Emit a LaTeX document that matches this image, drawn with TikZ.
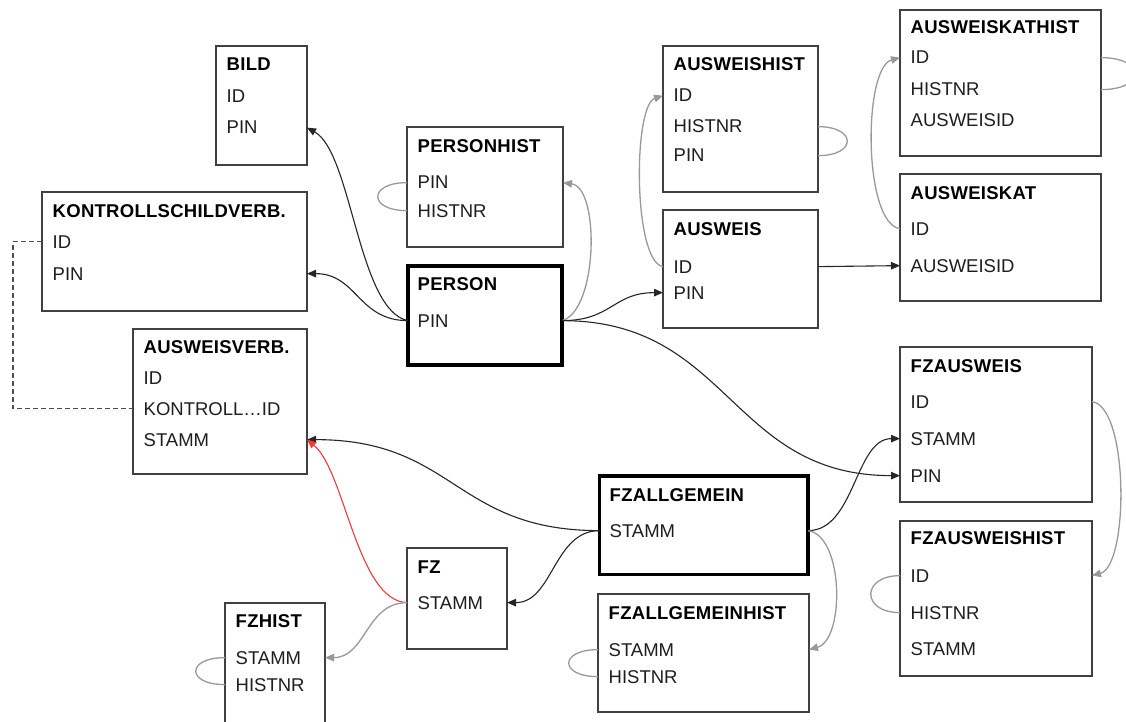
\documentclass[tikz,border=0pt]{standalone}
\usepackage{fontspec}
\setmainfont{Liberation Sans}
\newfontfamily\titlefont[LetterSpace=1.5]{Liberation Sans}
\usetikzlibrary{arrows.meta}

\definecolor{boxline}{HTML}{404040}
\definecolor{linkgray}{HTML}{999999}
\definecolor{linkred}{HTML}{F23A3A}
\definecolor{fieldtext}{HTML}{1E1E1E}
\newcommand{\tabfont}{\fontsize{18.5}{22}\selectfont}

\tikzset{
    tab/.style = {draw=boxline, line width=1.2pt, rectangle, inner sep=0pt, outer sep=0pt, anchor=north west},
    maintab/.style = {tab, draw=black, line width=3.5pt},
    fld/.style = {anchor=base west, inner sep=0pt, font=\tabfont, text=fieldtext},
    ttl/.style = {fld, font=\titlefont\bfseries\tabfont, text=black},
    fk/.style = {draw=black!85, line width=1.1pt, -{Triangle[length=9pt,width=7.5pt]}},
    redfk/.style = {fk, draw=linkred},
    hist/.style = {draw=linkgray, line width=1.3pt, -{Triangle[length=9pt,width=7.5pt]}},
    selfref/.style = {draw=linkgray, line width=1.3pt},
    verb/.style = {draw=black!70, line width=1.1pt, dash pattern=on 5pt off 3pt}
}

\begin{document}
\begin{tikzpicture}[x=1pt, y=-1pt]
    \path[use as bounding box, fill=white] (0, 0) rectangle (1126, 722);

    % tables
    \node[tab, minimum width=91pt, minimum height=119pt] at (216, 46) (bild) {};
    \node[ttl] at (226.5, 71) (bild-t) {BILD};
    \node[fld] at (226.5, 103) (bild-id) {ID};
    \node[fld] at (226.5, 134) (bild-pin) {PIN};

    \node[tab, minimum width=265pt, minimum height=119pt] at (42, 192) (ksv) {};
    \node[ttl] at (52.5, 217) (ksv-t) {KONTROLLSCHILDVERB.};
    \node[fld] at (52.5, 248) (ksv-id) {ID};
    \node[fld] at (52.5, 280) (ksv-pin) {PIN};

    \node[tab, minimum width=156pt, minimum height=120pt] at (407, 127) (personhist) {};
    \node[ttl] at (417.5, 153) (personhist-t) {PERSONHIST};
    \node[fld] at (417.5, 189) (personhist-pin) {PIN};
    \node[fld] at (417.5, 217) (personhist-histnr) {HISTNR};

    \node[maintab, minimum width=154pt, minimum height=99pt] at (408, 266) (person) {};
    \node[ttl] at (417.5, 290) (person-t) {PERSON};
    \node[fld] at (417.5, 327) (person-pin) {PIN};

    \node[tab, minimum width=155pt, minimum height=146pt] at (663, 46) (ausweishist) {};
    \node[ttl] at (673.5, 71) (ausweishist-t) {AUSWEISHIST};
    \node[fld] at (673.5, 102) (ausweishist-id) {ID};
    \node[fld] at (673.5, 133) (ausweishist-histnr) {HISTNR};
    \node[fld] at (673.5, 162) (ausweishist-pin) {PIN};

    \node[tab, minimum width=155pt, minimum height=118pt] at (663, 210) (ausweis) {};
    \node[ttl] at (673.5, 235) (ausweis-t) {AUSWEIS};
    \node[fld] at (673.5, 273) (ausweis-id) {ID};
    \node[fld] at (673.5, 299) (ausweis-pin) {PIN};

    \node[tab, minimum width=201pt, minimum height=146pt] at (900, 10) (akathist) {};
    \node[ttl] at (910.5, 34) (akathist-t) {AUSWEISKATHIST};
    \node[fld] at (910.5, 64) (akathist-id) {ID};
    \node[fld] at (910.5, 96) (akathist-histnr) {HISTNR};
    \node[fld] at (910.5, 127) (akathist-aid) {AUSWEISID};

    \node[tab, minimum width=201pt, minimum height=127pt] at (900, 174) (akat) {};
    \node[ttl] at (910.5, 199) (akat-t) {AUSWEISKAT};
    \node[fld] at (910.5, 235) (akat-id) {ID};
    \node[fld] at (910.5, 272) (akat-aid) {AUSWEISID};

    \node[tab, minimum width=174pt, minimum height=145pt] at (133, 329) (averb) {};
    \node[ttl] at (143.5, 353) (averb-t) {AUSWEISVERB.};
    \node[fld] at (143.5, 384) (averb-id) {ID};
    \node[fld] at (143.5, 415) (averb-kid) {KONTROLL…ID};
    \node[fld] at (143.5, 446) (averb-stamm) {STAMM};

    \node[tab, minimum width=192pt, minimum height=155pt] at (900, 347) (fzausweis) {};
    \node[ttl] at (910.5, 372) (fzausweis-t) {FZAUSWEIS};
    \node[fld] at (910.5, 408) (fzausweis-id) {ID};
    \node[fld] at (910.5, 445) (fzausweis-stamm) {STAMM};
    \node[fld] at (910.5, 482) (fzausweis-pin) {PIN};

    \node[maintab, minimum width=208.5pt, minimum height=98.5pt] at (599.5, 476) (fzallg) {};
    \node[ttl] at (609.5, 501) (fzallg-t) {FZALLGEMEIN};
    \node[fld] at (609.5, 537) (fzallg-stamm) {STAMM};

    \node[tab, minimum width=192pt, minimum height=155pt] at (900, 521) (fzausweishist) {};
    \node[ttl] at (910.5, 544) (fzausweishist-t) {FZAUSWEISHIST};
    \node[fld] at (910.5, 582) (fzausweishist-id) {ID};
    \node[fld] at (910.5, 619) (fzausweishist-histnr) {HISTNR};
    \node[fld] at (910.5, 655) (fzausweishist-stamm) {STAMM};

    \node[tab, minimum width=100pt, minimum height=101pt] at (407, 548) (fz) {};
    \node[ttl] at (417.5, 573) (fz-t) {FZ};
    \node[fld] at (417.5, 609) (fz-stamm) {STAMM};

    \node[tab, minimum width=211pt, minimum height=118pt] at (598, 594) (fzallghist) {};
    \node[ttl] at (608.5, 619) (fzallghist-t) {FZALLGEMEINHIST};
    \node[fld] at (608.5, 656) (fzallghist-stamm) {STAMM};
    \node[fld] at (608.5, 683) (fzallghist-histnr) {HISTNR};

    \node[tab, minimum width=100pt, minimum height=125pt] at (225, 603) (fzhist) {};
    \node[ttl] at (235.5, 627) (fzhist-t) {FZHIST};
    \node[fld] at (235.5, 664) (fzhist-stamm) {STAMM};
    \node[fld] at (235.5, 691) (fzhist-histnr) {HISTNR};

    % person links
    \draw[fk] (person-pin -| person.west) .. controls +(-50,-10) and +(45,25) .. (bild-pin -| bild.east);
    \draw[fk] (person-pin -| person.west) .. controls +(-50,0) and +(50,0) .. (ksv-pin -| ksv.east);
    \draw[hist] (person-pin -| person.east) .. controls +(36,-10) and +(37,5) .. (personhist-pin -| personhist.east);
    \draw[fk] (person-pin -| person.east) .. controls +(50,0) and +(-50,0) .. (ausweis-pin -| ausweis.west);
    \draw[fk] (person-pin -| person.east) .. controls +(168,0) and +(-170,0) .. (fzausweis-pin -| fzausweis.west);

    % ausweis links
    \draw[hist] (ausweis-id -| ausweis.west) .. controls +(-30,-5) and +(-30,10) .. (ausweishist-id -| ausweishist.west);
    \draw[fk] (ausweis-id -| ausweis.east) -- (akat-aid -| akat.west);
    \draw[hist] (akat-id -| akat.west) .. controls +(-37,-5) and +(-37,10) .. (akathist-id -| akathist.west);

    % fz links
    \draw[fk] (fzallg-stamm -| fzallg.west) .. controls +(-145,0) and +(148,0) .. (averb-stamm -| averb.east);
    \draw[redfk] (fz-stamm -| fz.west) .. controls +(-50,-2) and +(38,31) .. (averb-stamm -| averb.east);
    \draw[fk] (fzallg-stamm -| fzallg.west) .. controls +(-46,0) and +(46,0) .. (fz-stamm -| fz.east);
    \draw[hist] (fz-stamm -| fz.west) .. controls +(-41,0) and +(41,0) .. (fzhist-stamm -| fzhist.east);
    \draw[fk] (fzallg-stamm -| fzallg.east) .. controls +(47,0) and +(-45,0) .. (fzausweis-stamm -| fzausweis.west);
    \draw[hist] (fzallg-stamm -| fzallg.east) .. controls +(36,5) and +(36,-10) .. (fzallghist-stamm -| fzallghist.east);
    \draw[hist] (fzausweis-id -| fzausweis.east) .. controls +(37,5) and +(37,-10) .. (fzausweishist-id -| fzausweishist.east);

    % self references
    \draw[selfref] (personhist-pin -| personhist.west) .. controls +(-39,0) and +(-39,0) .. (personhist-histnr -| personhist.west);
    \draw[selfref] (ausweishist-histnr -| ausweishist.east) .. controls +(39,0) and +(39,0) .. (ausweishist-pin -| ausweishist.east);
    \draw[selfref] (akathist-id -| akathist.east) .. controls +(45,0) and +(45,0) .. (akathist-histnr -| akathist.east);
    \draw[selfref] (fzhist-stamm -| fzhist.west) .. controls +(-39,0) and +(-39,0) .. (fzhist-histnr -| fzhist.west);
    \draw[selfref] (fzallghist-stamm -| fzallghist.west) .. controls +(-39,0) and +(-39,0) .. (fzallghist-histnr -| fzallghist.west);
    \draw[selfref] (fzausweishist-id -| fzausweishist.west) .. controls +(-39,0) and +(-39,0) .. (fzausweishist-histnr -| fzausweishist.west);

    % kontrollschild reference
    \draw[verb] (ksv-id -| ksv.west) -- ++(-29,0) |- (averb-kid -| averb.west);
\end{tikzpicture}
\end{document}
